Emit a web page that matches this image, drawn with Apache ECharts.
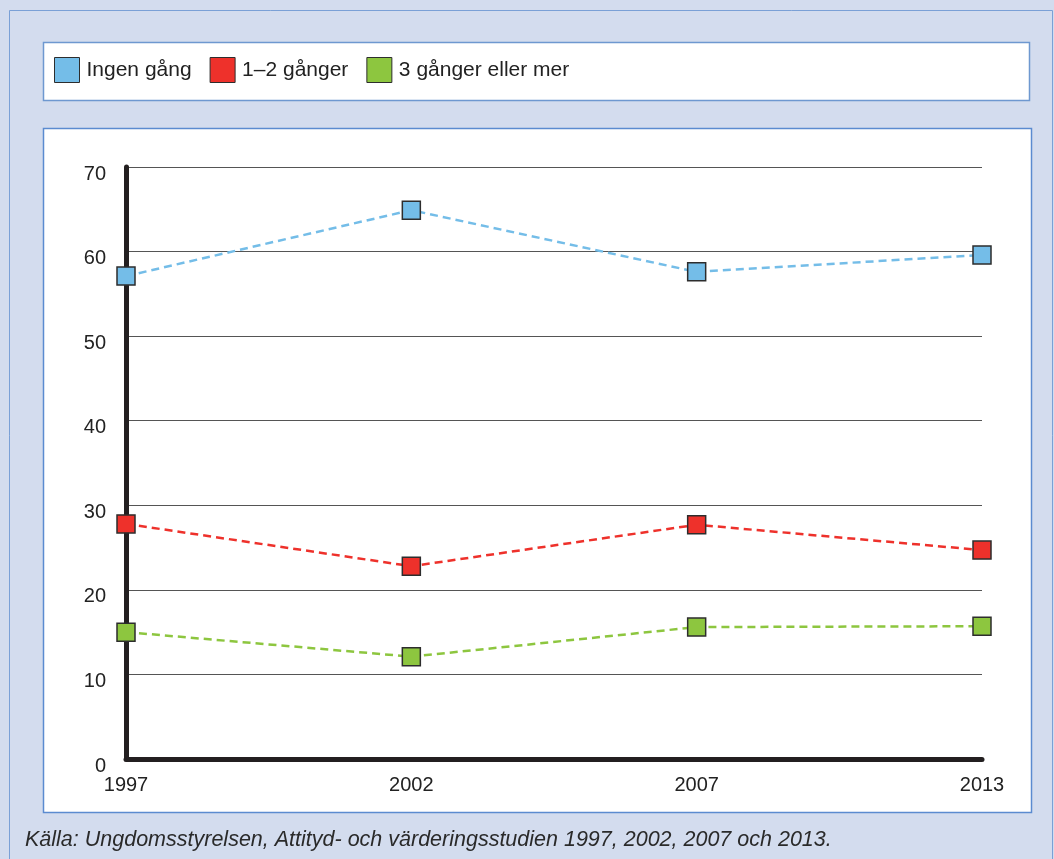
<!DOCTYPE html>
<html>
<head>
<meta charset="utf-8">
<script src="https://cdn.jsdelivr.net/npm/echarts@6/dist/echarts.min.js"></script>
<style>
html,body{margin:0;padding:0;background:#d3dcee;}
#chart{width:1054px;height:859px;}
</style>
</head>
<body>
<div id="chart"></div>
<script>
const categories = ['1997', '2002', '2007', '2013'];
const seriesNames = ['Ingen gång', '1–2 gånger', '3 gånger eller mer'];
const ingenGang = [57.1, 64.9, 57.6, 59.6];
const enTvaGanger = [27.8, 22.8, 27.7, 24.7];
const treGangerEllerMer = [15.0, 12.1, 15.6, 15.7];
const yTicks = { min: 0, max: 70, interval: 10 };
const caption = 'Källa: Ungdomsstyrelsen, Attityd- och värderingsstudien 1997, 2002, 2007 och 2013.';

const colors = ['#74bde8', '#ee312b', '#8dc63f'];
const values = [ingenGang, enTvaGanger, treGangerEllerMer];

const chart = echarts.init(document.getElementById('chart'), null, { renderer: 'canvas' });

const series = seriesNames.map((name, i) => ({
  name: name,
  type: 'line',
  data: values[i],
  symbol: 'rect',
  symbolSize: 18,
  z: 5,
  lineStyle: { color: colors[i], width: 2.5, type: [8, 5] },
  itemStyle: { color: colors[i], borderColor: '#2d2d2d', borderWidth: 1.5, opacity: 1 },
  emphasis: { disabled: true },
  animation: false
}));

const option = {
  backgroundColor: '#d3dcee',
  animation: false,
  textStyle: { fontFamily: 'Liberation Sans, Arial, sans-serif' },
  graphic: [
    { type: 'rect', z: -10, shape: { x: 9.5, y: 10.5, width: 1043, height: 860 },
      style: { fill: '#d3dcee', stroke: '#7aa0d6', lineWidth: 1 } },
    { type: 'rect', z: -9, shape: { x: 43.5, y: 42.5, width: 986, height: 58 },
      style: { fill: '#ffffff', stroke: '#6e98d0', lineWidth: 1.5 } },
    { type: 'rect', z: -9, shape: { x: 43.5, y: 128.5, width: 988, height: 684 },
      style: { fill: '#ffffff', stroke: '#5b8bd0', lineWidth: 1.5 } },
    { type: 'text', left: 25, top: 829,
      style: { text: caption, fill: '#2a2a2a', fontSize: 21.5, fontStyle: 'italic',
        fontFamily: 'Liberation Sans, Arial, sans-serif' } }
  ],
  legend: {
    data: seriesNames,
    left: 54,
    top: 57,
    padding: 0,
    icon: 'rect',
    itemWidth: 25,
    itemHeight: 25,
    itemGap: 18,
    selectedMode: false,
    itemStyle: { borderColor: '#2d2d2d', borderWidth: 1 },
    textStyle: { fontSize: 21, color: '#222', fontFamily: 'Liberation Sans, Arial, sans-serif', padding: [0, 0, 0, 2] }
  },
  grid: { left: 126, right: 72, top: 167, bottom: 100, containLabel: false },
  xAxis: {
    type: 'category',
    data: categories,
    boundaryGap: false,
    axisLine: { show: true, lineStyle: { color: '#231f20', width: 5 } },
    axisTick: { show: false },
    axisLabel: { fontSize: 20, color: '#222', margin: 16 },
    splitLine: { show: false }
  },
  yAxis: {
    type: 'value',
    min: yTicks.min,
    max: yTicks.max,
    interval: yTicks.interval,
    axisLine: { show: true, lineStyle: { color: '#231f20', width: 5 } },
    axisTick: { show: false },
    axisLabel: { fontSize: 20, color: '#222', margin: 20, verticalAlign: 'top', lineHeight: 14 },
    splitLine: { show: true, lineStyle: { color: '#555', width: 1 } }
  },
  series: series
};

chart.setOption(option);
</script>
</body>
</html>
